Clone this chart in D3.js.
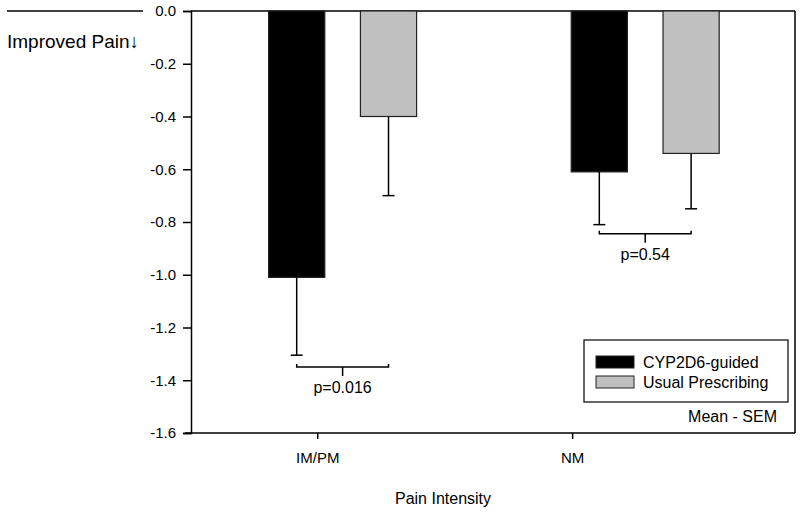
<!DOCTYPE html>
<html><head><meta charset="utf-8">
<script src="https://cdn.jsdelivr.net/npm/d3@7"></script>
<style>body{margin:0;background:#fff}svg{display:block;font-family:Arial,"Liberation Sans",sans-serif}</style>
</head><body><svg id="c" width="800" height="513"></svg>
<script>
const categories = ["IM/PM", "NM"];
const seriesNames = ["CYP2D6-guided", "Usual Prescribing"];
const guidedMeans = [-1.01, -0.61];
const guidedSEM = [0.295, 0.20];
const usualMeans = [-0.40, -0.54];
const usualSEM = [0.30, 0.21];
const pValues = ["p=0.016", "p=0.54"];
const bracketLevels = [-1.35, -0.845];
const yTicks = [0.0, -0.2, -0.4, -0.6, -0.8, -1.0, -1.2, -1.4, -1.6];

// layout (not data)
const groupPos = [0.251, 0.752];
const catTickPos = [0.209, 0.631];
const barOffset = 0.076, barW = 0.093;
const colors = ["#000000", "#c0c0c0"];

const svg = d3.select("#c");
const L = 191, R = 795, T = 11, B = 433;
const x = d3.scaleLinear().domain([0, 1]).range([L, R]);
const y = d3.scaleLinear().domain([0, -1.6]).range([T, B]);

// frame right + top
svg.append("line").attr("x1", L).attr("x2", R).attr("y1", T).attr("y2", T).attr("stroke", "#000").attr("stroke-width", 1.5);
svg.append("line").attr("x1", 7).attr("x2", 143).attr("y1", T).attr("y2", T).attr("stroke", "#000").attr("stroke-width", 1.5);
svg.append("line").attr("x1", R).attr("x2", R).attr("y1", T).attr("y2", B).attr("stroke", "#000").attr("stroke-width", 1.5);

// y axis
const yAxis = d3.axisLeft(y).tickValues(yTicks).tickFormat(d => d.toFixed(1)).tickSize(8).tickPadding(7);
const gy = svg.append("g").attr("transform", `translate(${L},0)`).call(yAxis);
gy.select(".domain").attr("stroke-width", 1.5);
gy.selectAll(".tick line").attr("stroke-width", 1.5);
gy.selectAll("text").attr("font-size", 15).attr("fill", "#000").attr("font-family", "Arial, 'Liberation Sans', sans-serif");

// x axis
svg.append("line").attr("x1", 185).attr("x2", R).attr("y1", B).attr("y2", B).attr("stroke", "#000").attr("stroke-width", 1.5);
const xAxis = d3.axisBottom(x).tickValues(catTickPos).tickFormat((d, i) => categories[i]).tickSize(6).tickPadding(13);
const gx = svg.append("g").attr("transform", `translate(0,${B})`).call(xAxis);
gx.select(".domain").remove();
gx.selectAll(".tick line").attr("stroke-width", 1.5);
gx.selectAll("text").attr("font-size", 15).attr("fill", "#000").attr("font-family", "Arial, 'Liberation Sans', sans-serif");

// bars
const series = [
  {name: seriesNames[0], means: guidedMeans, sem: guidedSEM, off: -barOffset, color: colors[0]},
  {name: seriesNames[1], means: usualMeans, sem: usualSEM, off: barOffset, color: colors[1]}
];
series.forEach(s => {
  const g = svg.append("g");
  g.selectAll("rect").data(s.means).join("rect")
    .attr("x", (d, i) => x(groupPos[i] + s.off - barW / 2))
    .attr("width", x(barW) - x(0))
    .attr("y", y(0))
    .attr("height", d => y(d) - y(0))
    .attr("fill", s.color).attr("stroke", "#222").attr("stroke-width", 1.2);
  g.selectAll("line.e").data(s.means).join("line").attr("class", "e")
    .attr("x1", (d, i) => x(groupPos[i] + s.off)).attr("x2", (d, i) => x(groupPos[i] + s.off))
    .attr("y1", d => y(d)).attr("y2", (d, i) => y(d - s.sem[i]))
    .attr("stroke", "#000").attr("stroke-width", 1.5);
  g.selectAll("line.c").data(s.means).join("line").attr("class", "c")
    .attr("x1", (d, i) => x(groupPos[i] + s.off) - 6).attr("x2", (d, i) => x(groupPos[i] + s.off) + 6)
    .attr("y1", (d, i) => y(d - s.sem[i])).attr("y2", (d, i) => y(d - s.sem[i]))
    .attr("stroke", "#000").attr("stroke-width", 1.5);
});

// significance brackets
categories.forEach((c, i) => {
  const x1 = x(groupPos[i] - barOffset), x2 = x(groupPos[i] + barOffset), xm = x(groupPos[i]);
  const yb = y(bracketLevels[i]);
  svg.append("path")
    .attr("d", `M${x1},${yb - 3}L${x1},${yb}L${x2},${yb}L${x2},${yb - 3}M${xm},${yb}L${xm},${yb + 9}`)
    .attr("fill", "none").attr("stroke", "#000").attr("stroke-width", 1.5);
  svg.append("text").attr("x", xm).attr("y", yb + 26).attr("text-anchor", "middle")
    .attr("font-size", 16).text(pValues[i]);
});

// legend
const lg = svg.append("g");
lg.append("rect").attr("x", 584).attr("y", 340).attr("width", 204).attr("height", 62)
  .attr("fill", "#fff").attr("stroke", "#000").attr("stroke-width", 1.2);
seriesNames.forEach((n, i) => {
  lg.append("rect").attr("x", 596).attr("y", 356 + i * 20).attr("width", 38).attr("height", 12)
    .attr("fill", colors[i]).attr("stroke", "#222").attr("stroke-width", 1);
  lg.append("text").attr("x", 643).attr("y", 367.5 + i * 20).attr("font-size", 16).text(n);
});
svg.append("text").attr("x", 777).attr("y", 422).attr("text-anchor", "end").attr("font-size", 16).text("Mean - SEM");

// labels
svg.append("text").attr("x", 7).attr("y", 48).attr("font-size", 19).text("Improved Pain\u2193");
svg.append("text").attr("x", 443).attr("y", 504).attr("text-anchor", "middle").attr("font-size", 16).text("Pain Intensity");
</script></body></html>
